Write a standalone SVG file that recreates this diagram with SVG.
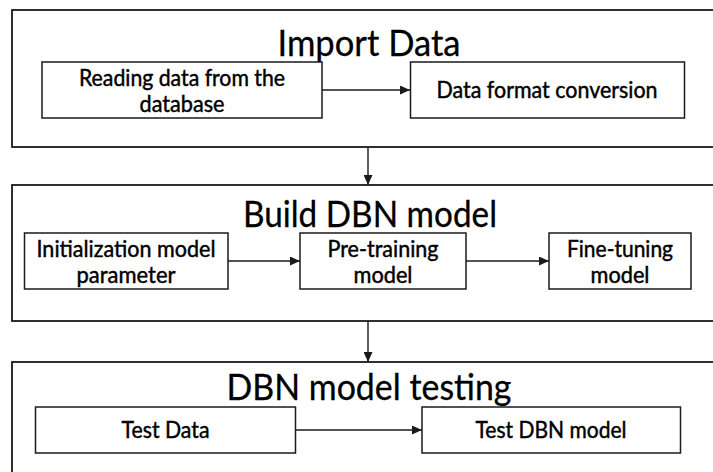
<svg xmlns="http://www.w3.org/2000/svg" width="713" height="472" viewBox="0 0 713 472">
  <style>
    .outer { fill: #ffffff; stroke: #1a1a1a; stroke-width: 1.8; }
    .box { fill: #ffffff; stroke: #1a1a1a; stroke-width: 1.5; }
    .title { font-family: Lato, "Liberation Sans", sans-serif; font-size: 37px; fill: #000; text-anchor: middle; stroke: #000; stroke-width: 0.3; }
    .lbl { font-family: Lato, "Liberation Sans", sans-serif; font-size: 23px; fill: #000; text-anchor: middle; stroke: #000; stroke-width: 0.45; }
    .conn { stroke: #1a1a1a; stroke-width: 1.4; fill: none; marker-end: url(#arrow); }
  </style>
  <defs>
    <marker id="arrow" markerUnits="userSpaceOnUse" markerWidth="10" markerHeight="9" refX="10" refY="4.5" orient="auto">
      <path d="M0,0 L10,4.5 L0,9 Z" fill="#1a1a1a"/>
    </marker>
  </defs>
  <rect width="713" height="472" fill="#ffffff"/>

  <g id="group-import">
    <rect class="outer" x="12" y="10" width="710" height="137"/>
    <text class="title" x="369" y="56" textLength="183" lengthAdjust="spacingAndGlyphs">Import Data</text>
  </g>
  <g id="group-build">
    <rect class="outer" x="12" y="185" width="710" height="136"/>
    <text class="title" x="370" y="227" textLength="254" lengthAdjust="spacingAndGlyphs">Build DBN model</text>
  </g>
  <g id="group-testing">
    <rect class="outer" x="12" y="362" width="710" height="130"/>
    <text class="title" x="369" y="400" textLength="285" lengthAdjust="spacingAndGlyphs">DBN model testing</text>
  </g>

  <g id="node-reading">
    <rect class="box" x="42" y="62" width="280" height="56"/>
    <text class="lbl" x="182" y="86" textLength="206" lengthAdjust="spacingAndGlyphs">Reading data from the</text>
    <text class="lbl" x="182" y="112" textLength="85" lengthAdjust="spacingAndGlyphs">database</text>
  </g>
  <g id="node-format">
    <rect class="box" x="410.5" y="62" width="274" height="56"/>
    <text class="lbl" x="547" y="98" textLength="221" lengthAdjust="spacingAndGlyphs">Data format conversion</text>
  </g>

  <g id="node-init">
    <rect class="box" x="24.5" y="233" width="203.5" height="56"/>
    <text class="lbl" x="126" y="257" textLength="179" lengthAdjust="spacingAndGlyphs">Initialization model</text>
    <text class="lbl" x="126" y="283" textLength="99" lengthAdjust="spacingAndGlyphs">parameter</text>
  </g>
  <g id="node-pretrain">
    <rect class="box" x="300" y="233" width="166" height="56"/>
    <text class="lbl" x="383" y="257" textLength="111" lengthAdjust="spacingAndGlyphs">Pre-training</text>
    <text class="lbl" x="383" y="283" textLength="59" lengthAdjust="spacingAndGlyphs">model</text>
  </g>
  <g id="node-finetune">
    <rect class="box" x="549" y="233" width="142" height="56"/>
    <text class="lbl" x="620" y="257" textLength="106" lengthAdjust="spacingAndGlyphs">Fine-tuning</text>
    <text class="lbl" x="620" y="283" textLength="59" lengthAdjust="spacingAndGlyphs">model</text>
  </g>

  <g id="node-testdata">
    <rect class="box" x="35.5" y="407" width="260" height="46"/>
    <text class="lbl" x="165.5" y="438" textLength="88" lengthAdjust="spacingAndGlyphs">Test Data</text>
  </g>
  <g id="node-testdbn">
    <rect class="box" x="422" y="407" width="258.5" height="46"/>
    <text class="lbl" x="551" y="438" textLength="151" lengthAdjust="spacingAndGlyphs">Test DBN model</text>
  </g>

  <g id="connectors">
    <line class="conn" x1="322" y1="90" x2="410" y2="90"/>
    <line class="conn" x1="368" y1="147" x2="368" y2="185"/>
    <line class="conn" x1="228" y1="261" x2="300" y2="261"/>
    <line class="conn" x1="466" y1="261" x2="549" y2="261"/>
    <line class="conn" x1="368" y1="321" x2="368" y2="362"/>
    <line class="conn" x1="295.5" y1="430" x2="422" y2="430"/>
  </g>
</svg>
